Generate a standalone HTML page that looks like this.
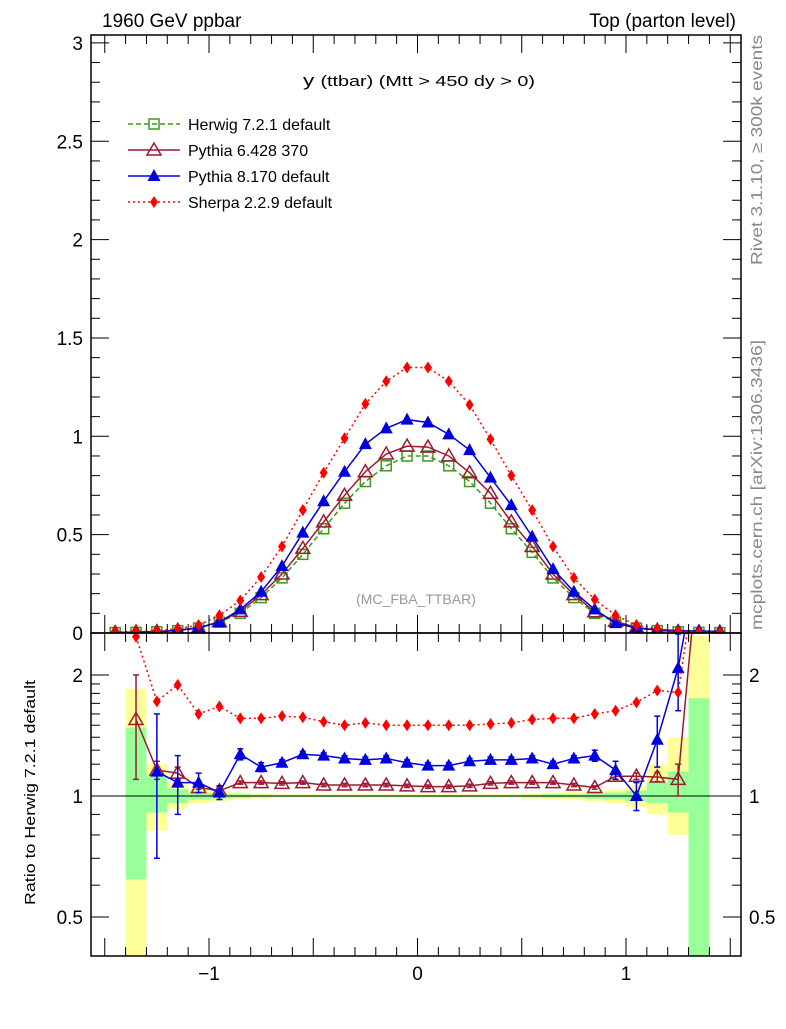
<!DOCTYPE html>
<html><head><meta charset="utf-8"><style>
body{margin:0;background:#fff;}
svg text{font-family:"Liberation Sans",Arial,sans-serif;}
</style></head><body>
<svg id="c" width="786" height="1024" xmlns="http://www.w3.org/2000/svg">
<text x="102" y="27" font-size="19">1960 GeV ppbar</text>
<text x="736" y="27" font-size="19" text-anchor="end">Top (parton level)</text>
<text x="303" y="86" font-size="17" textLength="232" lengthAdjust="spacingAndGlyphs">y <tspan font-size="15">(ttbar) (Mtt &gt; 450 dy &gt; 0)</tspan></text>
<text x="416" y="604" font-size="14" fill="#999" text-anchor="middle">(MC_FBA_TTBAR)</text>
<text transform="translate(762,265) rotate(-90)" font-size="16" fill="#888" textLength="230" lengthAdjust="spacingAndGlyphs">Rivet 3.1.10, ≥ 300k events</text>
<text transform="translate(762,630) rotate(-90)" font-size="16" fill="#888" textLength="290" lengthAdjust="spacingAndGlyphs">mcplots.cern.ch [arXiv:1306.3436]</text>
<text transform="translate(35,905) rotate(-90)" font-size="15" textLength="225" lengthAdjust="spacingAndGlyphs">Ratio to Herwig 7.2.1 default</text>
<g id="bands"></g><g id="marks"></g><g id="axes"></g>
<g id="legend"></g>
</svg>
<script>
const centers=[-1.45,-1.35,-1.25,-1.15,-1.05,-0.95,-0.85,-0.75,-0.65,-0.55,-0.45,-0.35,-0.25,-0.15,-0.05,0.05,0.15,0.25,0.35,0.45,0.55,0.65,0.75,0.85,0.95,1.05,1.15,1.25,1.35,1.45];
const herwig=[0.002,0.003,0.006,0.012,0.025,0.055,0.10,0.18,0.28,0.40,0.53,0.66,0.77,0.85,0.90,0.90,0.85,0.77,0.66,0.53,0.41,0.28,0.18,0.10,0.055,0.025,0.012,0.006,0.003,0.002];
const pythia6=[0.002,0.005,0.007,0.014,0.026,0.057,0.11,0.195,0.30,0.43,0.565,0.70,0.82,0.91,0.95,0.945,0.90,0.815,0.71,0.565,0.44,0.30,0.195,0.108,0.06,0.028,0.014,0.0066,0.006,0.004];
const pythia8=[0.002,0.004,0.007,0.013,0.027,0.056,0.12,0.21,0.34,0.51,0.67,0.82,0.96,1.04,1.085,1.07,1.01,0.93,0.79,0.65,0.49,0.325,0.21,0.12,0.05,0.025,0.017,0.012,0.01,0.008];
const sherpa=[0.005,0.008,0.01,0.022,0.04,0.09,0.165,0.285,0.44,0.625,0.815,0.99,1.165,1.28,1.35,1.35,1.28,1.16,0.985,0.80,0.625,0.44,0.28,0.17,0.09,0.04,0.022,0.011,0.006,0.005];
const rPythia6=[null,1.55,1.16,1.14,1.05,1.03,1.08,1.08,1.075,1.08,1.065,1.065,1.065,1.065,1.06,1.055,1.055,1.06,1.075,1.08,1.08,1.08,1.065,1.05,1.12,1.12,1.115,1.10,4.0,null];
const rPythia6Err=[null,0.45,0.06,0.04,0.01,0.01,0.01,0.01,0.01,0.01,0.01,0.01,0.01,0.01,0.01,0.01,0.01,0.01,0.01,0.01,0.01,0.01,0.01,0.01,0.02,0.02,0.03,0.10,0,null];
const rPythia8=[null,null,1.15,1.08,1.08,1.02,1.27,1.18,1.21,1.27,1.26,1.24,1.23,1.24,1.21,1.19,1.19,1.22,1.23,1.23,1.24,1.20,1.24,1.26,1.16,1.0,1.38,2.08,4.0,null];
const rPythia8Err=[null,null,0.45,0.18,0.06,0.04,0.04,0.03,0.02,0.02,0.02,0.02,0.02,0.02,0.02,0.02,0.02,0.02,0.02,0.02,0.02,0.02,0.02,0.04,0.06,0.08,0.2,0.45,0,null];
const rSherpa=[null,2.49,1.72,1.89,1.60,1.67,1.56,1.56,1.58,1.57,1.53,1.50,1.52,1.50,1.50,1.50,1.50,1.50,1.51,1.52,1.55,1.56,1.56,1.60,1.63,1.71,1.83,1.81,4.0,null];
const bandYellow=[null,[0.33,1.85],[0.82,1.2],[0.93,1.08],[0.96,1.04],[0.97,1.03],[0.98,1.02],[0.985,1.015],[0.99,1.01],[0.99,1.01],[0.99,1.01],[0.99,1.01],[0.99,1.01],[0.99,1.01],[0.99,1.01],[0.99,1.01],[0.99,1.01],[0.99,1.01],[0.99,1.01],[0.99,1.01],[0.985,1.015],[0.98,1.02],[0.975,1.025],[0.97,1.03],[0.96,1.04],[0.94,1.06],[0.9,1.2],[0.8,1.4],[0.33,2.5],null];
const bandGreen=[null,[0.62,1.48],[0.91,1.12],[0.96,1.04],[0.98,1.02],[0.985,1.015],[0.99,1.01],[0.993,1.007],[0.995,1.005],[0.995,1.005],[0.995,1.005],[0.995,1.005],[0.995,1.005],[0.995,1.005],[0.995,1.005],[0.995,1.005],[0.995,1.005],[0.995,1.005],[0.995,1.005],[0.995,1.005],[0.993,1.007],[0.99,1.01],[0.99,1.01],[0.985,1.015],[0.98,1.02],[0.97,1.03],[0.96,1.08],[0.91,1.15],[0.33,1.75],null];
const mainTicks=[0,0.5,1,1.5,2,2.5,3];
const mainTickLabels=["0","0.5","1","1.5","2","2.5","3"];
const xTicks=[-1,0,1];
const xTickLabels=["\u22121","0","1"];
const ratioTicks=[0.5,1,2];
const ratioTickLabels=["0.5","1","2"];

const L=91,R=741,T=35,MB=633,RB=956;
const X=v=>417.5+v*208.5;
const Y=v=>MB-v*196.7;
const RY=v=>796-Math.log10(v)*402;
const NS="http://www.w3.org/2000/svg";
function mk(tag,attrs,parent){const e=document.createElementNS(NS,tag);for(const k in attrs)e.setAttribute(k,attrs[k]);document.getElementById(parent).appendChild(e);return e;}

const defs=document.createElementNS(NS,"defs");document.getElementById("c").prepend(defs);
defs.innerHTML='<clipPath id="cm"><rect x="91" y="35" width="650" height="598"/></clipPath><clipPath id="cr"><rect x="91" y="633" width="650" height="323"/></clipPath>';
mk("g",{id:"mainG","clip-path":"url(#cm)"},"marks");
mk("g",{id:"ratG","clip-path":"url(#cr)"},"marks");

const hw=0.05;
[[bandYellow,"#ffff99","yellow"],[bandGreen,"#99ff99","green"]].forEach(([b,col,nm])=>{
 b.forEach((r,i)=>{if(!r)return;const lo=Math.max(r[0],0.33),hi=r[1];
  const e=mk("rect",{x:X(centers[i]-hw),y:RY(hi),width:X(centers[i]+hw)-X(centers[i]-hw),height:Math.min(RY(lo),RB)-RY(hi),fill:col},"bands");
  
  
 });
});
mk("line",{x1:L,x2:R,y1:RY(1),y2:RY(1),stroke:"#000","stroke-width":1},"bands");

function marker(kind,x,y,col,g){
 let e;
 if(kind=="sq")e=mk("rect",{x:x-5,y:y-5,width:10,height:10,fill:"none",stroke:col,"stroke-width":1.5},g);
 else if(kind=="otri")e=mk("polygon",{points:`${x},${y-7} ${x-7},${y+5} ${x+7},${y+5}`,fill:"none",stroke:col,"stroke-width":1.5},g);
 else if(kind=="tri")e=mk("polygon",{points:`${x},${y-7} ${x-6.5},${y+5} ${x+6.5},${y+5}`,fill:col},g);
 else e=mk("polygon",{points:`${x},${y-6} ${x-4},${y} ${x},${y+6} ${x+4},${y}`,fill:col},g);
 return e;
}
const series=[
 {name:"herwig",d:herwig,r:null,col:"#3d9a1e",m:"sq",dash:"5,3"},
 {name:"pythia6",d:pythia6,r:rPythia6,re:rPythia6Err,col:"#9b1b30",m:"otri",dash:""},
 {name:"pythia8",d:pythia8,r:rPythia8,re:rPythia8Err,col:"#0000dd",m:"tri",dash:""},
 {name:"sherpa",d:sherpa,r:rSherpa,col:"#ff0000",m:"dia",dash:"2,3"}];
series.forEach(s=>{
 const pts=s.d.map((v,i)=>X(centers[i])+","+Y(v)).join(" ");
 const pl=mk("polyline",{points:pts,fill:"none",stroke:s.col,"stroke-width":1.5,"stroke-dasharray":s.dash},"mainG");
 
 
 s.d.forEach((v,i)=>{const e=marker(s.m,X(centers[i]),Y(v),s.col,"mainG");
  
  });
 if(s.r){
  const rp=[];s.r.forEach((v,i)=>{if(v!==null)rp.push(X(centers[i])+","+RY(v));});
  const rl=mk("polyline",{points:rp.join(" "),fill:"none",stroke:s.col,"stroke-width":1.5,"stroke-dasharray":s.dash},"ratG");
  
  
  s.r.forEach((v,i)=>{if(v===null)return;const x=X(centers[i]);
   if(s.re&&s.re[i]){const a=RY(v+s.re[i]),b=RY(Math.max(v-s.re[i],0.3));
    mk("line",{x1:x,x2:x,y1:a,y2:b,stroke:s.col,"stroke-width":1.5},"ratG");
    mk("line",{x1:x-3,x2:x+3,y1:a,y2:a,stroke:s.col,"stroke-width":1.5},"ratG");
    mk("line",{x1:x-3,x2:x+3,y1:b,y2:b,stroke:s.col,"stroke-width":1.5},"ratG");}
   const e=marker(s.m,x,RY(v),s.col,"ratG");
   
   });
 }
});

mk("rect",{x:L,y:T,width:R-L,height:MB-T,fill:"none",stroke:"#000","stroke-width":1.5},"axes");
mk("rect",{x:L,y:MB,width:R-L,height:RB-MB,fill:"none",stroke:"#000","stroke-width":1.5},"axes");
for(let k=0;k<=30;k++){const v=k/10,y=Y(v),len=(k%5==0)?18:9;
 mk("line",{x1:L,x2:L+len,y1:y,y2:y,stroke:"#000"},"axes");mk("line",{x1:R-len,x2:R,y1:y,y2:y,stroke:"#000"},"axes");}
mainTicks.forEach((v,i)=>{const t=mk("text",{x:L-8,y:Y(v)+7,"font-size":19,"text-anchor":"end"},"axes");t.textContent=mainTickLabels[i];
 
 });
for(let k=-15;k<=15;k++){const v=k/10,x=X(v);if(x<L||x>R)continue;const len=(k%5==0)?18:9;
 [MB,RB].forEach(b=>{mk("line",{x1:x,x2:x,y1:b,y2:b-len,stroke:"#000"},"axes");});
 mk("line",{x1:x,x2:x,y1:MB,y2:MB+len,stroke:"#000"},"axes");mk("line",{x1:x,x2:x,y1:T,y2:T+len,stroke:"#000"},"axes");}
xTicks.forEach((v,i)=>{const t=mk("text",{x:X(v),y:980,"font-size":19,"text-anchor":"middle"},"axes");t.textContent=xTickLabels[i];
 
 });
[0.4,0.5,0.6,0.7,0.8,0.9,1,1.1,1.2,1.3,1.4,1.5,1.6,1.7,1.8,1.9,2].forEach(v=>{const y=RY(v);if(y>RB||y<MB)return;
 const len=(v==0.5||v==1||v==2)?18:9;
 mk("line",{x1:L,x2:L+len,y1:y,y2:y,stroke:"#000"},"axes");mk("line",{x1:R-len,x2:R,y1:y,y2:y,stroke:"#000"},"axes");});
ratioTicks.forEach((v,i)=>{[[L-8,"end"],[R+8,"start"]].forEach(([x,a])=>{
 const t=mk("text",{x:x,y:RY(v)+7,"font-size":19,"text-anchor":a},"axes");t.textContent=ratioTickLabels[i];
 
 });});

const legNames=["Herwig 7.2.1 default","Pythia 6.428 370","Pythia 8.170 default","Sherpa 2.2.9 default"];
series.forEach((s,i)=>{const y=124+i*26;
 mk("line",{x1:128,x2:180,y1:y,y2:y,stroke:s.col,"stroke-width":1.5,"stroke-dasharray":s.dash},"legend");
 marker(s.m,154,y,s.col,"legend");
 const t=mk("text",{x:188,y:y+6,"font-size":16},"legend");t.textContent=legNames[i];
 
 });
</script>
</body></html>
